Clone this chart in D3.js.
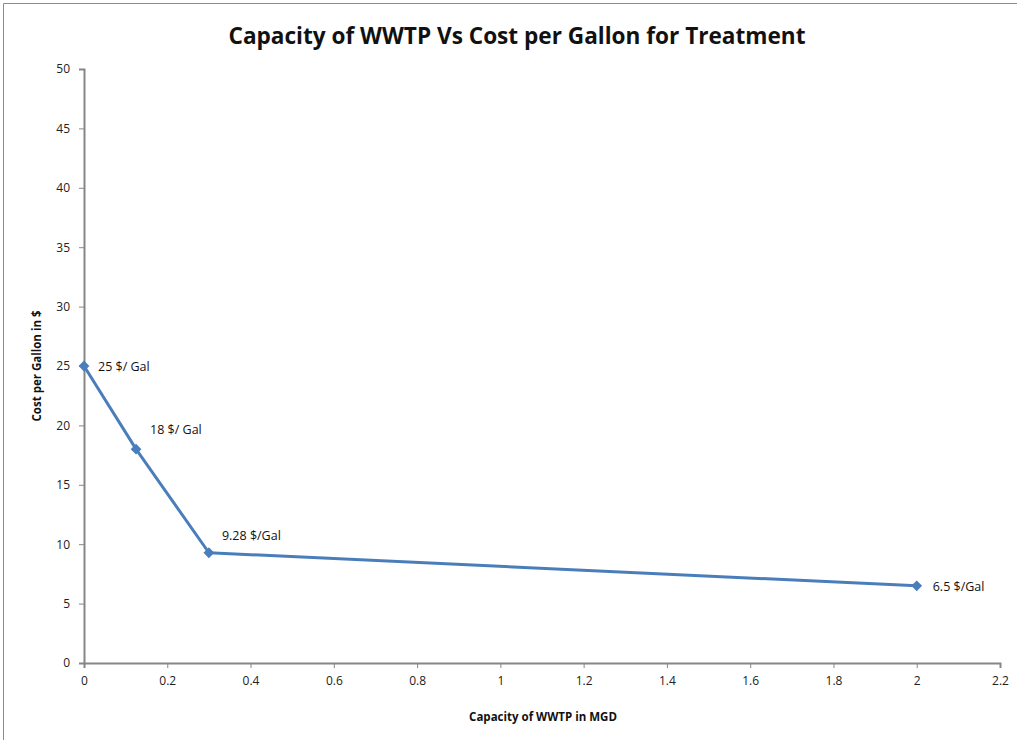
<!DOCTYPE html>
<html><head><meta charset="utf-8">
<script src="https://cdn.jsdelivr.net/npm/d3@7"></script>
<style>body{margin:0;background:#fff;} text{font-family:"Open Sans","Noto Sans",sans-serif;}</style>
</head><body><svg id="c" width="1017" height="740"></svg>
<script>
const capacity = [0, 0.125, 0.3, 2];
const cost = [25, 18, 9.28, 6.5];
const pointLabels = ["25 $/ Gal", "18 $/ Gal", "9.28 $/Gal", "6.5 $/Gal"];
const xTicks = [0, 0.2, 0.4, 0.6, 0.8, 1, 1.2, 1.4, 1.6, 1.8, 2, 2.2];
const yTicks = [0, 5, 10, 15, 20, 25, 30, 35, 40, 45, 50];
const title = "Capacity of WWTP Vs Cost per Gallon for Treatment";
const xTitle = "Capacity of WWTP in MGD";
const yTitle = "Cost per Gallon in $";
// label offsets (layout only)
const labelOffsets = [[14, 1], [14, -20], [13, -17], [16, 1]];

const svg = d3.select("#c");
svg.append("path").attr("d","M3.5,740 V3.5 H1017").attr("fill","none").attr("stroke","#8c8c8c").attr("stroke-width",1);

const x = d3.scaleLinear().domain([0, 2.2]).range([84, 1000]);
const y = d3.scaleLinear().domain([0, 50]).range([663, 69]);
const axisColor = "#868686";

const xa = svg.append("g").attr("transform","translate(0,663)")
  .call(d3.axisBottom(x).tickValues(xTicks).tickSize(5).tickPadding(8).tickFormat(d3.format("")));
const ya = svg.append("g").attr("transform","translate(84,0)")
  .call(d3.axisLeft(y).tickValues(yTicks).tickSize(5).tickPadding(9));
[xa, ya].forEach(g => {
  g.select(".domain").attr("stroke", axisColor).attr("stroke-width", 2);
  g.selectAll(".tick line").attr("stroke", axisColor).attr("stroke-width", 1);
  g.selectAll(".tick text").attr("fill","#222").style("font-size","12px").style("font-family","'Open Sans',sans-serif");
});

const data = capacity.map((c,i)=>({x:c,y:cost[i],l:pointLabels[i],o:labelOffsets[i]}));
svg.append("path").datum(data)
  .attr("d", d3.line().x(d=>x(d.x)).y(d=>y(d.y)))
  .attr("fill","none").attr("stroke","#4a7ebb").attr("stroke-width",3).attr("stroke-linejoin","round");
svg.selectAll(".pt").data(data).enter().append("path")
  .attr("transform", d=>`translate(${x(d.x)},${y(d.y)}) rotate(45)`)
  .attr("d", d3.symbol(d3.symbolSquare, 58))
  .attr("fill","#4a7ebb");
svg.selectAll(".lbl").data(data).enter().append("text")
  .attr("x", d=>x(d.x)+d.o[0]).attr("y", d=>y(d.y)+d.o[1])
  .attr("dy","0.35em").style("font-size","12.5px").attr("fill","#111").text(d=>d.l);

svg.append("text").attr("x",517).attr("y",44).attr("text-anchor","middle")
  .style("font-size","22.6px").style("font-weight","bold").attr("fill","#111").text(title);
svg.append("text").attr("x",543).attr("y",721).attr("text-anchor","middle")
  .style("font-size","11.5px").style("font-weight","bold").attr("fill","#111").text(xTitle);
svg.append("text").attr("transform","translate(41,366) rotate(-90)").attr("text-anchor","middle")
  .style("font-size","11.5px").style("font-weight","bold").attr("fill","#111").text(yTitle);
</script></body></html>
